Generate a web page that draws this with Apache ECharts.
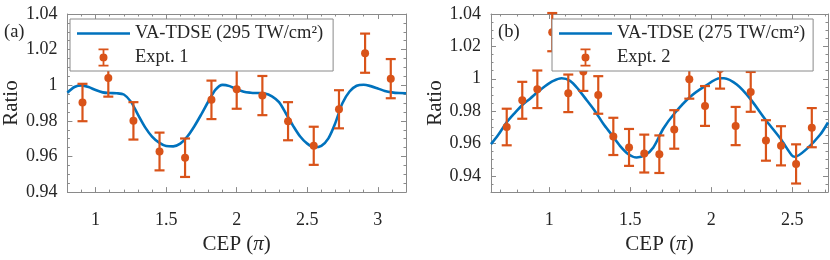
<!DOCTYPE html>
<html><head><meta charset="utf-8">
<script src="https://cdn.jsdelivr.net/npm/echarts@6/dist/echarts.min.js"></script>
<style>html,body{margin:0;padding:0;background:#fff}#c{width:830px;height:260px}</style>
</head><body><div id="c"></div>
<script>
// ---------- Panel (a) ----------
const curveAName = 'VA-TDSE (295 TW/cm²)';
const exptAName = 'Expt. 1';
const curveAX = [0.80,0.85,0.90,0.95,1.00,1.05,1.10,1.15,1.20,1.25,1.30,1.35,1.40,1.45,1.50,1.55,1.60,1.65,1.70,1.75,1.80,1.85,1.90,1.95,2.00,2.05,2.10,2.15,2.20,2.25,2.30,2.35,2.40,2.45,2.50,2.55,2.60,2.65,2.70,2.75,2.80,2.85,2.90,2.95,3.00,3.05,3.10,3.15,3.20];
const curveAY = [0.9958,0.9990,0.9999,0.9990,0.9973,0.9960,0.9956,0.9955,0.9948,0.9908,0.9835,0.9765,0.9712,0.9678,0.9659,0.9657,0.9672,0.9712,0.9770,0.9838,0.9910,0.9975,1.0002,0.9995,0.9978,0.9963,0.9958,0.9956,0.9954,0.9938,0.9905,0.9840,0.9772,0.9712,0.9672,0.9652,0.9660,0.9702,0.9790,0.9900,0.9965,0.9997,1.0003,0.9995,0.9982,0.9968,0.9960,0.9956,0.9955];
const exptAX = [0.907,1.090,1.268,1.453,1.634,1.821,2.000,2.182,2.364,2.546,2.725,2.910,3.092];
const exptAY = [0.9903,1.0040,0.9800,0.9628,0.9593,0.9918,0.9977,0.9942,0.9798,0.9660,0.9865,1.0180,1.0037];
const exptAErr = [0.0105,0.0104,0.0105,0.0106,0.0108,0.0108,0.0109,0.0110,0.0107,0.0107,0.0107,0.0110,0.0110];
const xTicksA = [1, 1.5, 2, 2.5, 3];
const xMinorA = [0.8,0.9,1,1.1,1.2,1.3,1.4,1.5,1.6,1.7,1.8,1.9,2,2.1,2.2,2.3,2.4,2.5,2.6,2.7,2.8,2.9,3,3.1,3.2];
const yTicksA = [0.94, 0.96, 0.98, 1, 1.02, 1.04];
const yMinorA = [0.94,0.945,0.95,0.955,0.96,0.965,0.97,0.975,0.98,0.985,0.99,0.995,1,1.005,1.01,1.015,1.02,1.025,1.03,1.035,1.04];

// ---------- Panel (b) ----------
const curveBName = 'VA-TDSE (275 TW/cm²)';
const exptBName = 'Expt. 2';
const curveBX = [0.640,0.685,0.737,0.788,0.833,0.881,0.926,0.973,1.025,1.076,1.128,1.179,1.231,1.282,1.333,1.385,1.436,1.488,1.539,1.591,1.642,1.704,1.776,1.868,1.961,2.054,2.078,2.157,2.239,2.332,2.424,2.496,2.515,2.589,2.671,2.720];
const curveBY = [0.9596,0.9654,0.9731,0.9790,0.9838,0.9877,0.9916,0.9954,0.9987,1.0003,0.9987,0.9935,0.9867,0.9800,0.9722,0.9654,0.9586,0.9534,0.9514,0.9528,0.9576,0.9693,0.9790,0.9887,0.9954,1.0003,1.0003,0.9964,0.9877,0.9750,0.9634,0.9528,0.9518,0.9567,0.9654,0.9730];
const exptBX = [0.737,0.833,0.926,1.018,1.117,1.210,1.302,1.395,1.492,1.586,1.679,1.771,1.864,1.961,2.054,2.150,2.243,2.337,2.430,2.523,2.620];
const exptBY = [0.9702,0.9867,0.9935,1.0288,0.9910,1.0045,0.9900,0.9644,0.9576,0.9538,0.9534,0.9687,0.9997,0.9832,1.0061,0.9708,0.9919,0.9619,0.9586,0.9474,0.9698];
const exptBErr = [0.0113,0.0114,0.0116,0.0118,0.0116,0.0120,0.0116,0.0115,0.0114,0.0117,0.0116,0.0119,0.0120,0.0123,0.0122,0.0118,0.0123,0.0125,0.0121,0.0121,0.0121];
const xTicksB = [1, 1.5, 2, 2.5];
const xMinorB = [0.7,0.8,0.9,1,1.1,1.2,1.3,1.4,1.5,1.6,1.7,1.8,1.9,2,2.1,2.2,2.3,2.4,2.5,2.6,2.7];
const yTicksB = [0.94, 0.96, 0.98, 1, 1.02, 1.04];
const yMinorB = [0.93,0.935,0.94,0.945,0.95,0.955,0.96,0.965,0.97,0.975,0.98,0.985,0.99,0.995,1,1.005,1.01,1.015,1.02,1.025,1.03,1.035,1.04];

const xName = 'CEP ({i|π})';
const yName = 'Ratio';

// ---------- styling ----------
const FONT = "'Liberation Serif', 'Times New Roman', serif";
const AXC = '#8a8a8a', TXC = '#262626';
const BLUE = '#0072BD', ORANGE = '#D95319';

function xAxes(g, min, max, major, minor) {
  const base = {type: 'value', gridIndex: g, min: min, max: max, splitLine: {show: false}};
  const line = {show: true, onZero: false, lineStyle: {color: AXC, width: 1}};
  return [
    Object.assign({}, base, {position: 'bottom', axisLine: line,
      axisTick: {show: true, inside: true, length: 5, customValues: major, lineStyle: {color: AXC}},
      axisLabel: {show: true, customValues: major, margin: 19, color: TXC, fontFamily: FONT, fontSize: 18},
      name: xName, nameLocation: 'middle', nameGap: 30,
      nameTextStyle: {color: TXC, fontFamily: FONT, fontSize: 21,
        rich: {i: {fontStyle: 'italic', fontFamily: FONT, fontSize: 21, color: TXC}}}}),
    Object.assign({}, base, {position: 'bottom', axisLine: {show: false, onZero: false},
      axisTick: {show: true, inside: true, length: 2.5, customValues: minor, lineStyle: {color: AXC}},
      axisLabel: {show: false}}),
    Object.assign({}, base, {position: 'top', axisLine: line,
      axisTick: {show: true, inside: true, length: 5, customValues: major, lineStyle: {color: AXC}},
      axisLabel: {show: false}}),
    Object.assign({}, base, {position: 'top', axisLine: {show: false, onZero: false},
      axisTick: {show: true, inside: true, length: 2.5, customValues: minor, lineStyle: {color: AXC}},
      axisLabel: {show: false}})
  ];
}
function yAxes(g, min, max, major, minor) {
  const base = {type: 'value', gridIndex: g, min: min, max: max, splitLine: {show: false}};
  const line = {show: true, onZero: false, lineStyle: {color: AXC, width: 1}};
  return [
    Object.assign({}, base, {position: 'left', axisLine: line,
      axisTick: {show: true, inside: true, length: 5, customValues: major, lineStyle: {color: AXC}},
      axisLabel: {show: true, customValues: major, margin: 10, color: TXC, fontFamily: FONT, fontSize: 18},
      name: yName, nameLocation: 'middle', nameGap: 42,
      nameTextStyle: {color: TXC, fontFamily: FONT, fontSize: 21}}),
    Object.assign({}, base, {position: 'left', axisLine: {show: false, onZero: false},
      axisTick: {show: true, inside: true, length: 2.5, customValues: minor, lineStyle: {color: AXC}},
      axisLabel: {show: false}}),
    Object.assign({}, base, {position: 'right', axisLine: line,
      axisTick: {show: true, inside: true, length: 5, customValues: major, lineStyle: {color: AXC}},
      axisLabel: {show: false}}),
    Object.assign({}, base, {position: 'right', axisLine: {show: false, onZero: false},
      axisTick: {show: true, inside: true, length: 2.5, customValues: minor, lineStyle: {color: AXC}},
      axisLabel: {show: false}})
  ];
}

function errData(xs, ys, es) {
  return xs.map((x, i) => [x, ys[i], ys[i] - es[i], ys[i] + es[i]]);
}
function renderErr(params, api) {
  const x = api.value(0), y = api.value(1), lo = api.value(2), hi = api.value(3);
  const pT = api.coord([x, hi]), pB = api.coord([x, lo]), pM = api.coord([x, y]);
  const hw = 5;
  const st = {stroke: ORANGE, lineWidth: 2.2, fill: null};
  return {type: 'group', children: [
    {type: 'line', shape: {x1: pT[0], y1: pT[1], x2: pB[0], y2: pB[1]}, style: st},
    {type: 'line', shape: {x1: pT[0] - hw, y1: pT[1], x2: pT[0] + hw, y2: pT[1]}, style: st},
    {type: 'line', shape: {x1: pB[0] - hw, y1: pB[1], x2: pB[0] + hw, y2: pB[1]}, style: st},
    {type: 'circle', shape: {cx: pM[0], cy: pM[1], r: 4}, style: {fill: ORANGE, stroke: null}}
  ]};
}

const lineIcon = 'path://M0,9 L0.01,9 Z M0,0 L0.01,0 Z M0,18 L0.01,18 Z M0,7.7 L53,7.7 L53,10.3 L0,10.3 Z';
const errIcon = 'path://M0,9 L0.01,9 Z M53,9 L52.99,9 Z ' +
  'M21.5,0 L31.5,0 L31.5,1.8 L21.5,1.8 Z ' +
  'M21.5,16.2 L31.5,16.2 L31.5,18 L21.5,18 Z ' +
  'M25.6,0 L27.4,0 L27.4,18 L25.6,18 Z ' +
  'M22.5,9 A4,4 0 1,1 30.5,9 A4,4 0 1,1 22.5,9 Z';

function legendFor(left, curveName, exptName, padRight) {
  return {
    orient: 'vertical', left: left, top: 19,
    padding: [5, padRight, 4, 7], itemGap: 5,
    itemWidth: 53, itemHeight: 18,
    backgroundColor: '#ffffff', borderColor: AXC, borderWidth: 1, borderRadius: 0,
    selectedMode: false,
    itemStyle: {borderWidth: 0},
    textStyle: {color: TXC, fontFamily: FONT, fontSize: 18.5, width: 198, padding: [0, 0, 0, 0]},
    data: [
      {name: curveName, icon: lineIcon, itemStyle: {color: BLUE, borderWidth: 0}},
      {name: exptName, icon: errIcon, itemStyle: {color: ORANGE, borderWidth: 0}}
    ],
    z: 10
  };
}

const chart = echarts.init(document.getElementById('c'), null, {renderer: 'canvas'});
chart.setOption({
  backgroundColor: '#ffffff',
  animation: false,
  grid: [
    {left: 64, top: 14, width: 342, height: 191, containLabel: false},
    {left: 491, top: 14, width: 337, height: 191, containLabel: false}
  ],
  xAxis: xAxes(0, 0.8, 3.2, xTicksA, xMinorA).concat(xAxes(1, 0.64, 2.72, xTicksB, xMinorB)),
  yAxis: yAxes(0, 0.94, 1.04, yTicksA, yMinorA).concat(yAxes(1, 0.93, 1.04, yTicksB, yMinorB)),
  legend: [
    legendFor(70, curveAName, exptAName, 10),
    legendFor(552, curveBName, exptBName, 8)
  ],
  graphic: [
    {type: 'text', left: 4, top: 23, style: {text: '(a)', fill: TXC, font: "18.5px 'Liberation Serif', serif"}},
    {type: 'text', left: 498, top: 23, style: {text: '(b)', fill: TXC, font: "18.5px 'Liberation Serif', serif"}, z: 5}
  ],
  series: [
    {name: curveAName, type: 'line', xAxisIndex: 0, yAxisIndex: 0, showSymbol: false, smooth: 0.3,
     lineStyle: {color: BLUE, width: 2.6}, itemStyle: {color: BLUE},
     data: curveAX.map((x, i) => [x, curveAY[i]]), z: 2},
    {name: exptAName, type: 'custom', xAxisIndex: 0, yAxisIndex: 0, clip: false,
     itemStyle: {color: ORANGE}, encode: {x: 0, y: [1, 2, 3]},
     renderItem: renderErr, data: errData(exptAX, exptAY, exptAErr), z: 3},
    {name: curveBName, type: 'line', xAxisIndex: 4, yAxisIndex: 4, showSymbol: false, smooth: 0.3,
     lineStyle: {color: BLUE, width: 2.6}, itemStyle: {color: BLUE},
     data: curveBX.map((x, i) => [x, curveBY[i]]), z: 2},
    {name: exptBName, type: 'custom', xAxisIndex: 4, yAxisIndex: 4, clip: false,
     itemStyle: {color: ORANGE}, encode: {x: 0, y: [1, 2, 3]},
     renderItem: renderErr, data: errData(exptBX, exptBY, exptBErr), z: 3}
  ]
});
</script></body></html>
